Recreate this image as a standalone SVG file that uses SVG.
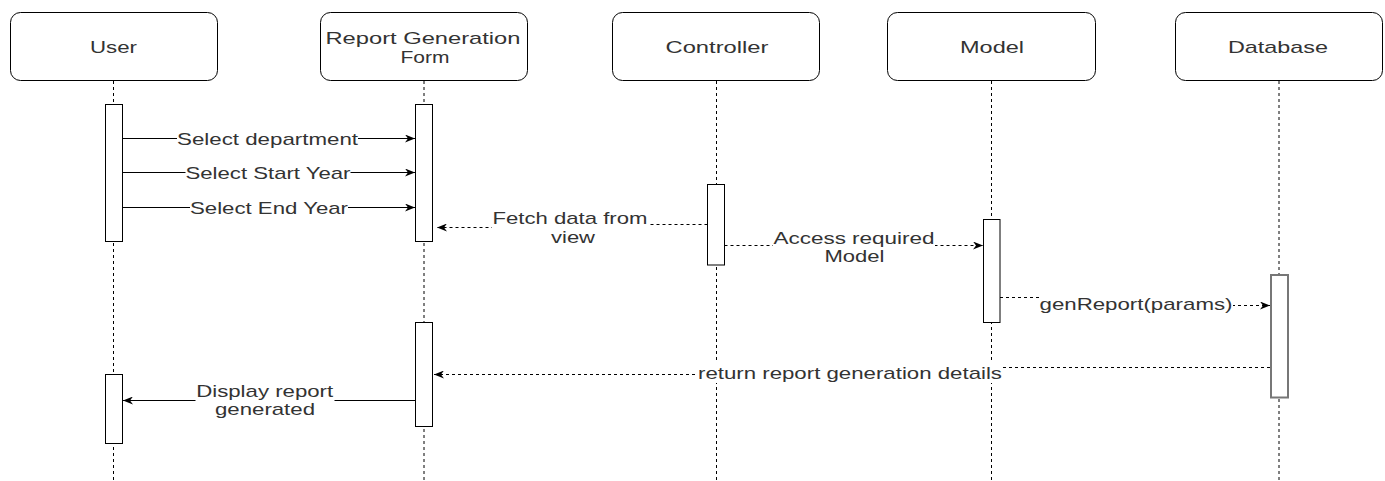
<svg xmlns="http://www.w3.org/2000/svg" width="1385" height="481" viewBox="0 0 1385 481">
<defs>
<style>
.box{fill:#fff;stroke:#000;stroke-width:1}
.life{stroke:#000;stroke-width:1;stroke-dasharray:3 3;fill:none}
.bar{fill:#fff;stroke:#000;stroke-width:1}
.bar2{fill:#fff;stroke:#777;stroke-width:2}
.msg{fill:none;stroke:#000;stroke-width:1}
.dash{stroke-dasharray:3 3}
.lbl{font-family:"Liberation Sans",Arial,Helvetica,sans-serif;font-size:17px;fill:#333;text-anchor:middle}
.bg{fill:#fff}
</style>
<marker id="arr" markerUnits="userSpaceOnUse" viewBox="0 0 10 8" refX="10" refY="4" markerWidth="10" markerHeight="8" orient="auto">
<path d="M0 0 L10 4 L0 8 L3 4 Z" fill="#000" stroke="none"/>
</marker>
</defs>
<rect width="1385" height="481" fill="#fff"/>

<g id="user">
<line class="life" x1="113.5" y1="81" x2="113.5" y2="481"/>
<rect class="box" x="10.5" y="12.5" width="207" height="68" rx="10"/>
<text class="lbl" x="113.5" y="53" textLength="47" lengthAdjust="spacingAndGlyphs">User</text>
<rect class="bar" x="105.5" y="104.5" width="17" height="137"/>
<rect class="bar" x="105.5" y="374.5" width="17" height="69"/>
</g>

<g id="report-form">
<line class="life" x1="424" y1="81" x2="424" y2="481"/>
<rect class="box" x="320.5" y="12.5" width="207" height="68" rx="10"/>
<text class="lbl" x="423" y="44" textLength="195" lengthAdjust="spacingAndGlyphs">Report Generation</text>
<text class="lbl" x="425" y="63" textLength="49" lengthAdjust="spacingAndGlyphs">Form</text>
<rect class="bar" x="415.5" y="104.5" width="17" height="137"/>
<rect class="bar" x="415.5" y="322.5" width="17" height="104"/>
</g>

<g id="controller">
<line class="life" x1="716.5" y1="81" x2="716.5" y2="481"/>
<rect class="box" x="612.5" y="12.5" width="207" height="68" rx="10"/>
<text class="lbl" x="717" y="53" textLength="103" lengthAdjust="spacingAndGlyphs">Controller</text>
<rect class="bar" x="707.5" y="184.5" width="17" height="80.5"/>
</g>

<g id="model">
<line class="life" x1="991.5" y1="81" x2="991.5" y2="481"/>
<rect class="box" x="887.5" y="12.5" width="208" height="68" rx="10"/>
<text class="lbl" x="992" y="53" textLength="64" lengthAdjust="spacingAndGlyphs">Model</text>
<rect class="bar" x="983.5" y="219.5" width="16.5" height="103"/>
</g>

<g id="database">
<line class="life" x1="1279" y1="81" x2="1279" y2="481"/>
<rect class="box" x="1175.5" y="12.5" width="207" height="68" rx="10"/>
<text class="lbl" x="1278" y="53" textLength="100" lengthAdjust="spacingAndGlyphs">Database</text>
<rect class="bar2" x="1271" y="275" width="17" height="122.5"/>
</g>

<g id="connectors">
<path class="msg" d="M122.5 138.5 H415" marker-end="url(#arr)"/>
<rect class="bg" x="177" y="129" width="181" height="20"/>
<text class="lbl" x="267.5" y="145" textLength="181" lengthAdjust="spacingAndGlyphs">Select department</text>

<path class="msg" d="M122.5 172.5 H415" marker-end="url(#arr)"/>
<rect class="bg" x="185.5" y="163" width="165" height="20"/>
<text class="lbl" x="268" y="179" textLength="165" lengthAdjust="spacingAndGlyphs">Select Start Year</text>

<path class="msg" d="M122.5 207.5 H415" marker-end="url(#arr)"/>
<rect class="bg" x="190" y="198" width="158" height="20"/>
<text class="lbl" x="269" y="214" textLength="158" lengthAdjust="spacingAndGlyphs">Select End Year</text>

<path class="msg dash" d="M707.5 224.5 H570 V227.5 H437" marker-end="url(#arr)"/>
<rect class="bg" x="492" y="208" width="156" height="38"/>
<text class="lbl" x="570" y="224" textLength="155" lengthAdjust="spacingAndGlyphs">Fetch data from</text>
<text class="lbl" x="573" y="243" textLength="44" lengthAdjust="spacingAndGlyphs">view</text>

<path class="msg dash" d="M724.5 245.5 H983" marker-end="url(#arr)"/>
<rect class="bg" x="773" y="229" width="162" height="37"/>
<text class="lbl" x="854" y="244" textLength="161" lengthAdjust="spacingAndGlyphs">Access required</text>
<text class="lbl" x="854.5" y="262" textLength="60" lengthAdjust="spacingAndGlyphs">Model</text>

<path class="msg dash" d="M1000 297.5 H1136 V305.5 H1270" marker-end="url(#arr)"/>
<rect class="bg" x="1039" y="294" width="194" height="21"/>
<text class="lbl" x="1136" y="310" textLength="193" lengthAdjust="spacingAndGlyphs">genReport(params)</text>

<path class="msg dash" d="M1270 367.5 H850 V374.5 H434" marker-end="url(#arr)"/>
<rect class="bg" x="697" y="362" width="306" height="21"/>
<text class="lbl" x="850" y="378.5" textLength="304" lengthAdjust="spacingAndGlyphs">return report generation details</text>

<path class="msg" d="M415.5 400.5 H123" marker-end="url(#arr)"/>
<rect class="bg" x="195.5" y="381" width="139" height="38"/>
<text class="lbl" x="264.7" y="397" textLength="137" lengthAdjust="spacingAndGlyphs">Display report</text>
<text class="lbl" x="265" y="415" textLength="100" lengthAdjust="spacingAndGlyphs">generated</text>
</g>
</svg>
